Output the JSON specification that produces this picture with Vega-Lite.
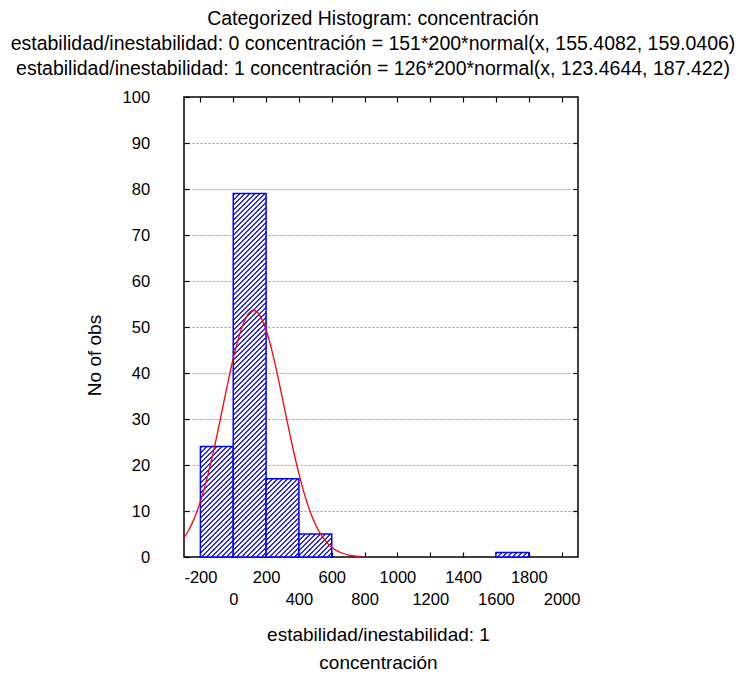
{
  "$schema": "https://vega.github.io/schema/vega-lite/v6.json",
  "autosize": "none",
  "width": 394,
  "height": 460,
  "padding": {"left": 184, "top": 97, "right": 171, "bottom": 117},
  "background": "white",
  "config": {
    "font": "Liberation Sans",
    "view": {"stroke": "#000", "strokeWidth": 1.5},
    "axis": {"labelColor": "#000", "tickColor": "#000", "titleColor": "#000", "labelFont": "Liberation Sans", "titleFont": "Liberation Sans", "titleFontWeight": "normal", "tickWidth": 1.2}
  },
  "title": {
    "text": ["Categorized Histogram: concentración", "estabilidad/inestabilidad: 0 concentración = 151*200*normal(x, 155.4082, 159.0406)", "estabilidad/inestabilidad: 1 concentración = 126*200*normal(x, 123.4644, 187.422)"],
    "font": "Liberation Sans", "fontSize": 19.5, "fontWeight": "normal", "color": "#000",
    "lineHeight": 25, "anchor": "middle", "frame": "group", "dx": -8, "offset": 10
  },
  "datasets": {
    "bins": [
      {"lo": -200, "hi": 0, "count": 24},
      {"lo": 0, "hi": 200, "count": 79},
      {"lo": 200, "hi": 400, "count": 17},
      {"lo": 400, "hi": 600, "count": 5},
      {"lo": 1600, "hi": 1800, "count": 1}
    ],
    "curve": [
      {"x": -300, "y": 4.178}, {"x": -275, "y": 5.597}, {"x": -250, "y": 7.367}, {"x": -225, "y": 9.525},
      {"x": -200, "y": 12.097}, {"x": -175, "y": 15.094}, {"x": -150, "y": 18.501}, {"x": -125, "y": 22.277},
      {"x": -100, "y": 26.351}, {"x": -75, "y": 30.62}, {"x": -50, "y": 34.952}, {"x": -25, "y": 39.195},
      {"x": 0, "y": 43.177}, {"x": 25, "y": 46.726}, {"x": 50, "y": 49.674}, {"x": 75, "y": 51.876},
      {"x": 100, "y": 53.221}, {"x": 125, "y": 53.638}, {"x": 150, "y": 53.105}, {"x": 175, "y": 51.65},
      {"x": 200, "y": 49.349}, {"x": 225, "y": 46.319}, {"x": 250, "y": 42.708}, {"x": 275, "y": 38.684},
      {"x": 300, "y": 34.422}, {"x": 325, "y": 30.089}, {"x": 350, "y": 25.837}, {"x": 375, "y": 21.795},
      {"x": 400, "y": 18.061}, {"x": 425, "y": 14.703}, {"x": 450, "y": 11.758}, {"x": 475, "y": 9.237},
      {"x": 500, "y": 7.129}, {"x": 525, "y": 5.405}, {"x": 550, "y": 4.025}, {"x": 575, "y": 2.945},
      {"x": 600, "y": 2.117}, {"x": 625, "y": 1.495}, {"x": 650, "y": 1.037}, {"x": 675, "y": 0.706},
      {"x": 700, "y": 0.473}, {"x": 725, "y": 0.311}, {"x": 750, "y": 0.201}, {"x": 775, "y": 0.127}
    ]
  },
  "layer": [
    {
      "data": {"name": "bins"},
      "encoding": {
        "x": {
          "field": "lo", "type": "quantitative",
          "scale": {"domain": [-300, 2100], "nice": false, "zero": false},
          "axis": {
            "orient": "bottom",
            "values": [-200, 0, 200, 400, 600, 800, 1000, 1200, 1400, 1600, 1800, 2000],
            "labelExpr": "datum.value % 400 == 0 ? [' ', '' + datum.value] : '' + datum.value",
            "grid": false, "domain": false, "tickSize": -5, "labelPadding": 17,
            "labelFontSize": 16.5, "labelLineHeight": 22, "labelOverlap": false, "labelFlush": false, "labelBaseline": "top",
            "title": ["estabilidad/inestabilidad: 1", "concentración"],
            "titleFontSize": 19, "titleLineHeight": 28, "titleX": 194, "titleY": 68, "titleBaseline": "top", "titleAlign": "center"
          }
        },
        "x2": {"field": "hi"},
        "y": {
          "field": "count", "type": "quantitative",
          "scale": {"domain": [0, 100], "nice": false},
          "axis": {
            "orient": "left",
            "values": [0, 10, 20, 30, 40, 50, 60, 70, 80, 90, 100],
            "grid": true, "gridDash": [2, 2], "gridColor": "#999", "gridWidth": 1,
            "gridOpacity": {"condition": {"test": "datum.value == 0 || datum.value == 100", "value": 0}, "value": 1},
            "domain": false, "tickSize": -5, "labelPadding": 39.4, "labelFontSize": 16.5, "labelFlush": false,
            "title": "No of obs", "titleFontSize": 19, "titleX": -90, "titleY": 258, "titleAngle": -90,
            "titleAlign": "center", "titleBaseline": "middle"
          }
        },
        "y2": {"datum": 0}
      },
      "layer": [
        {
          "transform": [{"filter": "datum.lo == -200"}],
          "mark": {"type": "bar", "stroke": "#00f", "strokeWidth": 1.5, "fill": {"gradient": "linear", "x1": 0, "y1": 0, "x2": 0.3544973, "y2": 1.1919747, "stops": [
            {"offset":0,"color":"#fff"},
            {"offset":0.00337,"color":"#fff"},{"offset":0.00337,"color":"#2b2bff"},{"offset":0.01734,"color":"#2b2bff"},{"offset":0.01734,"color":"#fff"},
            {"offset":0.03828,"color":"#fff"},{"offset":0.03828,"color":"#2b2bff"},{"offset":0.05225,"color":"#2b2bff"},{"offset":0.05225,"color":"#fff"},
            {"offset":0.07319,"color":"#fff"},{"offset":0.07319,"color":"#2b2bff"},{"offset":0.08715,"color":"#2b2bff"},{"offset":0.08715,"color":"#fff"},
            {"offset":0.1081,"color":"#fff"},{"offset":0.1081,"color":"#2b2bff"},{"offset":0.12206,"color":"#2b2bff"},{"offset":0.12206,"color":"#fff"},
            {"offset":0.14301,"color":"#fff"},{"offset":0.14301,"color":"#2b2bff"},{"offset":0.15697,"color":"#2b2bff"},{"offset":0.15697,"color":"#fff"},
            {"offset":0.17791,"color":"#fff"},{"offset":0.17791,"color":"#2b2bff"},{"offset":0.19188,"color":"#2b2bff"},{"offset":0.19188,"color":"#fff"},
            {"offset":0.21282,"color":"#fff"},{"offset":0.21282,"color":"#2b2bff"},{"offset":0.22679,"color":"#2b2bff"},{"offset":0.22679,"color":"#fff"},
            {"offset":0.24773,"color":"#fff"},{"offset":0.24773,"color":"#2b2bff"},{"offset":0.26169,"color":"#2b2bff"},{"offset":0.26169,"color":"#fff"},
            {"offset":0.28264,"color":"#fff"},{"offset":0.28264,"color":"#2b2bff"},{"offset":0.2966,"color":"#2b2bff"},{"offset":0.2966,"color":"#fff"},
            {"offset":0.31755,"color":"#fff"},{"offset":0.31755,"color":"#2b2bff"},{"offset":0.33151,"color":"#2b2bff"},{"offset":0.33151,"color":"#fff"},
            {"offset":0.35246,"color":"#fff"},{"offset":0.35246,"color":"#2b2bff"},{"offset":0.36642,"color":"#2b2bff"},{"offset":0.36642,"color":"#fff"},
            {"offset":0.38736,"color":"#fff"},{"offset":0.38736,"color":"#2b2bff"},{"offset":0.40133,"color":"#2b2bff"},{"offset":0.40133,"color":"#fff"},
            {"offset":0.42227,"color":"#fff"},{"offset":0.42227,"color":"#2b2bff"},{"offset":0.43623,"color":"#2b2bff"},{"offset":0.43623,"color":"#fff"},
            {"offset":0.45718,"color":"#fff"},{"offset":0.45718,"color":"#2b2bff"},{"offset":0.47114,"color":"#2b2bff"},{"offset":0.47114,"color":"#fff"},
            {"offset":0.49209,"color":"#fff"},{"offset":0.49209,"color":"#2b2bff"},{"offset":0.50605,"color":"#2b2bff"},{"offset":0.50605,"color":"#fff"},
            {"offset":0.527,"color":"#fff"},{"offset":0.527,"color":"#2b2bff"},{"offset":0.54096,"color":"#2b2bff"},{"offset":0.54096,"color":"#fff"},
            {"offset":0.5619,"color":"#fff"},{"offset":0.5619,"color":"#2b2bff"},{"offset":0.57587,"color":"#2b2bff"},{"offset":0.57587,"color":"#fff"},
            {"offset":0.59681,"color":"#fff"},{"offset":0.59681,"color":"#2b2bff"},{"offset":0.61078,"color":"#2b2bff"},{"offset":0.61078,"color":"#fff"},
            {"offset":0.63172,"color":"#fff"},{"offset":0.63172,"color":"#2b2bff"},{"offset":0.64568,"color":"#2b2bff"},{"offset":0.64568,"color":"#fff"},
            {"offset":0.66663,"color":"#fff"},{"offset":0.66663,"color":"#2b2bff"},{"offset":0.68059,"color":"#2b2bff"},{"offset":0.68059,"color":"#fff"},
            {"offset":0.70154,"color":"#fff"},{"offset":0.70154,"color":"#2b2bff"},{"offset":0.7155,"color":"#2b2bff"},{"offset":0.7155,"color":"#fff"},
            {"offset":0.73644,"color":"#fff"},{"offset":0.73644,"color":"#2b2bff"},{"offset":0.75041,"color":"#2b2bff"},{"offset":0.75041,"color":"#fff"},
            {"offset":0.77135,"color":"#fff"},{"offset":0.77135,"color":"#2b2bff"},{"offset":0.78532,"color":"#2b2bff"},{"offset":0.78532,"color":"#fff"},
            {"offset":0.80626,"color":"#fff"},{"offset":0.80626,"color":"#2b2bff"},{"offset":0.82022,"color":"#2b2bff"},{"offset":0.82022,"color":"#fff"},
            {"offset":0.84117,"color":"#fff"},{"offset":0.84117,"color":"#2b2bff"},{"offset":0.85513,"color":"#2b2bff"},{"offset":0.85513,"color":"#fff"},
            {"offset":0.87608,"color":"#fff"},{"offset":0.87608,"color":"#2b2bff"},{"offset":0.89004,"color":"#2b2bff"},{"offset":0.89004,"color":"#fff"},
            {"offset":0.91098,"color":"#fff"},{"offset":0.91098,"color":"#2b2bff"},{"offset":0.92495,"color":"#2b2bff"},{"offset":0.92495,"color":"#fff"},
            {"offset":0.94589,"color":"#fff"},{"offset":0.94589,"color":"#2b2bff"},{"offset":0.95986,"color":"#2b2bff"},{"offset":0.95986,"color":"#fff"},
            {"offset":0.9808,"color":"#fff"},{"offset":0.9808,"color":"#2b2bff"},{"offset":0.99476,"color":"#2b2bff"},{"offset":0.99476,"color":"#fff"},
            {"offset":1,"color":"#fff"}
          ]}}
        },
        {
          "transform": [{"filter": "datum.lo == 0"}],
          "mark": {"type": "bar", "stroke": "#00f", "strokeWidth": 1.5, "fill": {"gradient": "linear", "x1": 0, "y1": 0, "x2": 0.09771591, "y2": 1.08152172, "stops": [
            {"offset":0,"color":"#fff"},
            {"offset":0.00164,"color":"#fff"},{"offset":0.00164,"color":"#2b2bff"},{"offset":0.00669,"color":"#2b2bff"},{"offset":0.00669,"color":"#fff"},
            {"offset":0.01426,"color":"#fff"},{"offset":0.01426,"color":"#2b2bff"},{"offset":0.01931,"color":"#2b2bff"},{"offset":0.01931,"color":"#fff"},
            {"offset":0.02688,"color":"#fff"},{"offset":0.02688,"color":"#2b2bff"},{"offset":0.03193,"color":"#2b2bff"},{"offset":0.03193,"color":"#fff"},
            {"offset":0.0395,"color":"#fff"},{"offset":0.0395,"color":"#2b2bff"},{"offset":0.04454,"color":"#2b2bff"},{"offset":0.04454,"color":"#fff"},
            {"offset":0.05212,"color":"#fff"},{"offset":0.05212,"color":"#2b2bff"},{"offset":0.05716,"color":"#2b2bff"},{"offset":0.05716,"color":"#fff"},
            {"offset":0.06473,"color":"#fff"},{"offset":0.06473,"color":"#2b2bff"},{"offset":0.06978,"color":"#2b2bff"},{"offset":0.06978,"color":"#fff"},
            {"offset":0.07735,"color":"#fff"},{"offset":0.07735,"color":"#2b2bff"},{"offset":0.0824,"color":"#2b2bff"},{"offset":0.0824,"color":"#fff"},
            {"offset":0.08997,"color":"#fff"},{"offset":0.08997,"color":"#2b2bff"},{"offset":0.09502,"color":"#2b2bff"},{"offset":0.09502,"color":"#fff"},
            {"offset":0.10259,"color":"#fff"},{"offset":0.10259,"color":"#2b2bff"},{"offset":0.10764,"color":"#2b2bff"},{"offset":0.10764,"color":"#fff"},
            {"offset":0.11521,"color":"#fff"},{"offset":0.11521,"color":"#2b2bff"},{"offset":0.12026,"color":"#2b2bff"},{"offset":0.12026,"color":"#fff"},
            {"offset":0.12783,"color":"#fff"},{"offset":0.12783,"color":"#2b2bff"},{"offset":0.13288,"color":"#2b2bff"},{"offset":0.13288,"color":"#fff"},
            {"offset":0.14045,"color":"#fff"},{"offset":0.14045,"color":"#2b2bff"},{"offset":0.1455,"color":"#2b2bff"},{"offset":0.1455,"color":"#fff"},
            {"offset":0.15307,"color":"#fff"},{"offset":0.15307,"color":"#2b2bff"},{"offset":0.15811,"color":"#2b2bff"},{"offset":0.15811,"color":"#fff"},
            {"offset":0.16569,"color":"#fff"},{"offset":0.16569,"color":"#2b2bff"},{"offset":0.17073,"color":"#2b2bff"},{"offset":0.17073,"color":"#fff"},
            {"offset":0.1783,"color":"#fff"},{"offset":0.1783,"color":"#2b2bff"},{"offset":0.18335,"color":"#2b2bff"},{"offset":0.18335,"color":"#fff"},
            {"offset":0.19092,"color":"#fff"},{"offset":0.19092,"color":"#2b2bff"},{"offset":0.19597,"color":"#2b2bff"},{"offset":0.19597,"color":"#fff"},
            {"offset":0.20354,"color":"#fff"},{"offset":0.20354,"color":"#2b2bff"},{"offset":0.20859,"color":"#2b2bff"},{"offset":0.20859,"color":"#fff"},
            {"offset":0.21616,"color":"#fff"},{"offset":0.21616,"color":"#2b2bff"},{"offset":0.22121,"color":"#2b2bff"},{"offset":0.22121,"color":"#fff"},
            {"offset":0.22878,"color":"#fff"},{"offset":0.22878,"color":"#2b2bff"},{"offset":0.23383,"color":"#2b2bff"},{"offset":0.23383,"color":"#fff"},
            {"offset":0.2414,"color":"#fff"},{"offset":0.2414,"color":"#2b2bff"},{"offset":0.24645,"color":"#2b2bff"},{"offset":0.24645,"color":"#fff"},
            {"offset":0.25402,"color":"#fff"},{"offset":0.25402,"color":"#2b2bff"},{"offset":0.25906,"color":"#2b2bff"},{"offset":0.25906,"color":"#fff"},
            {"offset":0.26664,"color":"#fff"},{"offset":0.26664,"color":"#2b2bff"},{"offset":0.27168,"color":"#2b2bff"},{"offset":0.27168,"color":"#fff"},
            {"offset":0.27925,"color":"#fff"},{"offset":0.27925,"color":"#2b2bff"},{"offset":0.2843,"color":"#2b2bff"},{"offset":0.2843,"color":"#fff"},
            {"offset":0.29187,"color":"#fff"},{"offset":0.29187,"color":"#2b2bff"},{"offset":0.29692,"color":"#2b2bff"},{"offset":0.29692,"color":"#fff"},
            {"offset":0.30449,"color":"#fff"},{"offset":0.30449,"color":"#2b2bff"},{"offset":0.30954,"color":"#2b2bff"},{"offset":0.30954,"color":"#fff"},
            {"offset":0.31711,"color":"#fff"},{"offset":0.31711,"color":"#2b2bff"},{"offset":0.32216,"color":"#2b2bff"},{"offset":0.32216,"color":"#fff"},
            {"offset":0.32973,"color":"#fff"},{"offset":0.32973,"color":"#2b2bff"},{"offset":0.33478,"color":"#2b2bff"},{"offset":0.33478,"color":"#fff"},
            {"offset":0.34235,"color":"#fff"},{"offset":0.34235,"color":"#2b2bff"},{"offset":0.3474,"color":"#2b2bff"},{"offset":0.3474,"color":"#fff"},
            {"offset":0.35497,"color":"#fff"},{"offset":0.35497,"color":"#2b2bff"},{"offset":0.36002,"color":"#2b2bff"},{"offset":0.36002,"color":"#fff"},
            {"offset":0.36759,"color":"#fff"},{"offset":0.36759,"color":"#2b2bff"},{"offset":0.37263,"color":"#2b2bff"},{"offset":0.37263,"color":"#fff"},
            {"offset":0.38021,"color":"#fff"},{"offset":0.38021,"color":"#2b2bff"},{"offset":0.38525,"color":"#2b2bff"},{"offset":0.38525,"color":"#fff"},
            {"offset":0.39282,"color":"#fff"},{"offset":0.39282,"color":"#2b2bff"},{"offset":0.39787,"color":"#2b2bff"},{"offset":0.39787,"color":"#fff"},
            {"offset":0.40544,"color":"#fff"},{"offset":0.40544,"color":"#2b2bff"},{"offset":0.41049,"color":"#2b2bff"},{"offset":0.41049,"color":"#fff"},
            {"offset":0.41806,"color":"#fff"},{"offset":0.41806,"color":"#2b2bff"},{"offset":0.42311,"color":"#2b2bff"},{"offset":0.42311,"color":"#fff"},
            {"offset":0.43068,"color":"#fff"},{"offset":0.43068,"color":"#2b2bff"},{"offset":0.43573,"color":"#2b2bff"},{"offset":0.43573,"color":"#fff"},
            {"offset":0.4433,"color":"#fff"},{"offset":0.4433,"color":"#2b2bff"},{"offset":0.44835,"color":"#2b2bff"},{"offset":0.44835,"color":"#fff"},
            {"offset":0.45592,"color":"#fff"},{"offset":0.45592,"color":"#2b2bff"},{"offset":0.46097,"color":"#2b2bff"},{"offset":0.46097,"color":"#fff"},
            {"offset":0.46854,"color":"#fff"},{"offset":0.46854,"color":"#2b2bff"},{"offset":0.47359,"color":"#2b2bff"},{"offset":0.47359,"color":"#fff"},
            {"offset":0.48116,"color":"#fff"},{"offset":0.48116,"color":"#2b2bff"},{"offset":0.4862,"color":"#2b2bff"},{"offset":0.4862,"color":"#fff"},
            {"offset":0.49378,"color":"#fff"},{"offset":0.49378,"color":"#2b2bff"},{"offset":0.49882,"color":"#2b2bff"},{"offset":0.49882,"color":"#fff"},
            {"offset":0.50639,"color":"#fff"},{"offset":0.50639,"color":"#2b2bff"},{"offset":0.51144,"color":"#2b2bff"},{"offset":0.51144,"color":"#fff"},
            {"offset":0.51901,"color":"#fff"},{"offset":0.51901,"color":"#2b2bff"},{"offset":0.52406,"color":"#2b2bff"},{"offset":0.52406,"color":"#fff"},
            {"offset":0.53163,"color":"#fff"},{"offset":0.53163,"color":"#2b2bff"},{"offset":0.53668,"color":"#2b2bff"},{"offset":0.53668,"color":"#fff"},
            {"offset":0.54425,"color":"#fff"},{"offset":0.54425,"color":"#2b2bff"},{"offset":0.5493,"color":"#2b2bff"},{"offset":0.5493,"color":"#fff"},
            {"offset":0.55687,"color":"#fff"},{"offset":0.55687,"color":"#2b2bff"},{"offset":0.56192,"color":"#2b2bff"},{"offset":0.56192,"color":"#fff"},
            {"offset":0.56949,"color":"#fff"},{"offset":0.56949,"color":"#2b2bff"},{"offset":0.57454,"color":"#2b2bff"},{"offset":0.57454,"color":"#fff"},
            {"offset":0.58211,"color":"#fff"},{"offset":0.58211,"color":"#2b2bff"},{"offset":0.58715,"color":"#2b2bff"},{"offset":0.58715,"color":"#fff"},
            {"offset":0.59473,"color":"#fff"},{"offset":0.59473,"color":"#2b2bff"},{"offset":0.59977,"color":"#2b2bff"},{"offset":0.59977,"color":"#fff"},
            {"offset":0.60734,"color":"#fff"},{"offset":0.60734,"color":"#2b2bff"},{"offset":0.61239,"color":"#2b2bff"},{"offset":0.61239,"color":"#fff"},
            {"offset":0.61996,"color":"#fff"},{"offset":0.61996,"color":"#2b2bff"},{"offset":0.62501,"color":"#2b2bff"},{"offset":0.62501,"color":"#fff"},
            {"offset":0.63258,"color":"#fff"},{"offset":0.63258,"color":"#2b2bff"},{"offset":0.63763,"color":"#2b2bff"},{"offset":0.63763,"color":"#fff"},
            {"offset":0.6452,"color":"#fff"},{"offset":0.6452,"color":"#2b2bff"},{"offset":0.65025,"color":"#2b2bff"},{"offset":0.65025,"color":"#fff"},
            {"offset":0.65782,"color":"#fff"},{"offset":0.65782,"color":"#2b2bff"},{"offset":0.66287,"color":"#2b2bff"},{"offset":0.66287,"color":"#fff"},
            {"offset":0.67044,"color":"#fff"},{"offset":0.67044,"color":"#2b2bff"},{"offset":0.67549,"color":"#2b2bff"},{"offset":0.67549,"color":"#fff"},
            {"offset":0.68306,"color":"#fff"},{"offset":0.68306,"color":"#2b2bff"},{"offset":0.68811,"color":"#2b2bff"},{"offset":0.68811,"color":"#fff"},
            {"offset":0.69568,"color":"#fff"},{"offset":0.69568,"color":"#2b2bff"},{"offset":0.70072,"color":"#2b2bff"},{"offset":0.70072,"color":"#fff"},
            {"offset":0.7083,"color":"#fff"},{"offset":0.7083,"color":"#2b2bff"},{"offset":0.71334,"color":"#2b2bff"},{"offset":0.71334,"color":"#fff"},
            {"offset":0.72091,"color":"#fff"},{"offset":0.72091,"color":"#2b2bff"},{"offset":0.72596,"color":"#2b2bff"},{"offset":0.72596,"color":"#fff"},
            {"offset":0.73353,"color":"#fff"},{"offset":0.73353,"color":"#2b2bff"},{"offset":0.73858,"color":"#2b2bff"},{"offset":0.73858,"color":"#fff"},
            {"offset":0.74615,"color":"#fff"},{"offset":0.74615,"color":"#2b2bff"},{"offset":0.7512,"color":"#2b2bff"},{"offset":0.7512,"color":"#fff"},
            {"offset":0.75877,"color":"#fff"},{"offset":0.75877,"color":"#2b2bff"},{"offset":0.76382,"color":"#2b2bff"},{"offset":0.76382,"color":"#fff"},
            {"offset":0.77139,"color":"#fff"},{"offset":0.77139,"color":"#2b2bff"},{"offset":0.77644,"color":"#2b2bff"},{"offset":0.77644,"color":"#fff"},
            {"offset":0.78401,"color":"#fff"},{"offset":0.78401,"color":"#2b2bff"},{"offset":0.78906,"color":"#2b2bff"},{"offset":0.78906,"color":"#fff"},
            {"offset":0.79663,"color":"#fff"},{"offset":0.79663,"color":"#2b2bff"},{"offset":0.80167,"color":"#2b2bff"},{"offset":0.80167,"color":"#fff"},
            {"offset":0.80925,"color":"#fff"},{"offset":0.80925,"color":"#2b2bff"},{"offset":0.81429,"color":"#2b2bff"},{"offset":0.81429,"color":"#fff"},
            {"offset":0.82187,"color":"#fff"},{"offset":0.82187,"color":"#2b2bff"},{"offset":0.82691,"color":"#2b2bff"},{"offset":0.82691,"color":"#fff"},
            {"offset":0.83448,"color":"#fff"},{"offset":0.83448,"color":"#2b2bff"},{"offset":0.83953,"color":"#2b2bff"},{"offset":0.83953,"color":"#fff"},
            {"offset":0.8471,"color":"#fff"},{"offset":0.8471,"color":"#2b2bff"},{"offset":0.85215,"color":"#2b2bff"},{"offset":0.85215,"color":"#fff"},
            {"offset":0.85972,"color":"#fff"},{"offset":0.85972,"color":"#2b2bff"},{"offset":0.86477,"color":"#2b2bff"},{"offset":0.86477,"color":"#fff"},
            {"offset":0.87234,"color":"#fff"},{"offset":0.87234,"color":"#2b2bff"},{"offset":0.87739,"color":"#2b2bff"},{"offset":0.87739,"color":"#fff"},
            {"offset":0.88496,"color":"#fff"},{"offset":0.88496,"color":"#2b2bff"},{"offset":0.89001,"color":"#2b2bff"},{"offset":0.89001,"color":"#fff"},
            {"offset":0.89758,"color":"#fff"},{"offset":0.89758,"color":"#2b2bff"},{"offset":0.90263,"color":"#2b2bff"},{"offset":0.90263,"color":"#fff"},
            {"offset":0.9102,"color":"#fff"},{"offset":0.9102,"color":"#2b2bff"},{"offset":0.91524,"color":"#2b2bff"},{"offset":0.91524,"color":"#fff"},
            {"offset":0.92282,"color":"#fff"},{"offset":0.92282,"color":"#2b2bff"},{"offset":0.92786,"color":"#2b2bff"},{"offset":0.92786,"color":"#fff"},
            {"offset":0.93543,"color":"#fff"},{"offset":0.93543,"color":"#2b2bff"},{"offset":0.94048,"color":"#2b2bff"},{"offset":0.94048,"color":"#fff"},
            {"offset":0.94805,"color":"#fff"},{"offset":0.94805,"color":"#2b2bff"},{"offset":0.9531,"color":"#2b2bff"},{"offset":0.9531,"color":"#fff"},
            {"offset":0.96067,"color":"#fff"},{"offset":0.96067,"color":"#2b2bff"},{"offset":0.96572,"color":"#2b2bff"},{"offset":0.96572,"color":"#fff"},
            {"offset":0.97329,"color":"#fff"},{"offset":0.97329,"color":"#2b2bff"},{"offset":0.97834,"color":"#2b2bff"},{"offset":0.97834,"color":"#fff"},
            {"offset":0.98591,"color":"#fff"},{"offset":0.98591,"color":"#2b2bff"},{"offset":0.99096,"color":"#2b2bff"},{"offset":0.99096,"color":"#fff"},
            {"offset":0.99853,"color":"#fff"},{"offset":0.99853,"color":"#2b2bff"},{"offset":1,"color":"#2b2bff"}
          ]}}
        },
        {
          "transform": [{"filter": "datum.lo == 200"}],
          "mark": {"type": "bar", "stroke": "#00f", "strokeWidth": 1.5, "fill": {"gradient": "linear", "x1": 0, "y1": 0, "x2": 0.50680644, "y2": 1.207074, "stops": [
            {"offset":0,"color":"#fff"},
            {"offset":0.00555,"color":"#fff"},{"offset":0.00555,"color":"#2b2bff"},{"offset":0.02357,"color":"#2b2bff"},{"offset":0.02357,"color":"#fff"},
            {"offset":0.05059,"color":"#fff"},{"offset":0.05059,"color":"#2b2bff"},{"offset":0.0686,"color":"#2b2bff"},{"offset":0.0686,"color":"#fff"},
            {"offset":0.09562,"color":"#fff"},{"offset":0.09562,"color":"#2b2bff"},{"offset":0.11363,"color":"#2b2bff"},{"offset":0.11363,"color":"#fff"},
            {"offset":0.14065,"color":"#fff"},{"offset":0.14065,"color":"#2b2bff"},{"offset":0.15866,"color":"#2b2bff"},{"offset":0.15866,"color":"#fff"},
            {"offset":0.18568,"color":"#fff"},{"offset":0.18568,"color":"#2b2bff"},{"offset":0.20369,"color":"#2b2bff"},{"offset":0.20369,"color":"#fff"},
            {"offset":0.23071,"color":"#fff"},{"offset":0.23071,"color":"#2b2bff"},{"offset":0.24872,"color":"#2b2bff"},{"offset":0.24872,"color":"#fff"},
            {"offset":0.27574,"color":"#fff"},{"offset":0.27574,"color":"#2b2bff"},{"offset":0.29376,"color":"#2b2bff"},{"offset":0.29376,"color":"#fff"},
            {"offset":0.32077,"color":"#fff"},{"offset":0.32077,"color":"#2b2bff"},{"offset":0.33879,"color":"#2b2bff"},{"offset":0.33879,"color":"#fff"},
            {"offset":0.36581,"color":"#fff"},{"offset":0.36581,"color":"#2b2bff"},{"offset":0.38382,"color":"#2b2bff"},{"offset":0.38382,"color":"#fff"},
            {"offset":0.41084,"color":"#fff"},{"offset":0.41084,"color":"#2b2bff"},{"offset":0.42885,"color":"#2b2bff"},{"offset":0.42885,"color":"#fff"},
            {"offset":0.45587,"color":"#fff"},{"offset":0.45587,"color":"#2b2bff"},{"offset":0.47388,"color":"#2b2bff"},{"offset":0.47388,"color":"#fff"},
            {"offset":0.5009,"color":"#fff"},{"offset":0.5009,"color":"#2b2bff"},{"offset":0.51891,"color":"#2b2bff"},{"offset":0.51891,"color":"#fff"},
            {"offset":0.54593,"color":"#fff"},{"offset":0.54593,"color":"#2b2bff"},{"offset":0.56394,"color":"#2b2bff"},{"offset":0.56394,"color":"#fff"},
            {"offset":0.59096,"color":"#fff"},{"offset":0.59096,"color":"#2b2bff"},{"offset":0.60898,"color":"#2b2bff"},{"offset":0.60898,"color":"#fff"},
            {"offset":0.636,"color":"#fff"},{"offset":0.636,"color":"#2b2bff"},{"offset":0.65401,"color":"#2b2bff"},{"offset":0.65401,"color":"#fff"},
            {"offset":0.68103,"color":"#fff"},{"offset":0.68103,"color":"#2b2bff"},{"offset":0.69904,"color":"#2b2bff"},{"offset":0.69904,"color":"#fff"},
            {"offset":0.72606,"color":"#fff"},{"offset":0.72606,"color":"#2b2bff"},{"offset":0.74407,"color":"#2b2bff"},{"offset":0.74407,"color":"#fff"},
            {"offset":0.77109,"color":"#fff"},{"offset":0.77109,"color":"#2b2bff"},{"offset":0.7891,"color":"#2b2bff"},{"offset":0.7891,"color":"#fff"},
            {"offset":0.81612,"color":"#fff"},{"offset":0.81612,"color":"#2b2bff"},{"offset":0.83413,"color":"#2b2bff"},{"offset":0.83413,"color":"#fff"},
            {"offset":0.86115,"color":"#fff"},{"offset":0.86115,"color":"#2b2bff"},{"offset":0.87917,"color":"#2b2bff"},{"offset":0.87917,"color":"#fff"},
            {"offset":0.90618,"color":"#fff"},{"offset":0.90618,"color":"#2b2bff"},{"offset":0.9242,"color":"#2b2bff"},{"offset":0.9242,"color":"#fff"},
            {"offset":0.95122,"color":"#fff"},{"offset":0.95122,"color":"#2b2bff"},{"offset":0.96923,"color":"#2b2bff"},{"offset":0.96923,"color":"#fff"},
            {"offset":0.99625,"color":"#fff"},{"offset":0.99625,"color":"#2b2bff"},{"offset":1,"color":"#2b2bff"}
          ]}}
        },
        {
          "transform": [{"filter": "datum.lo == 400"}],
          "mark": {"type": "bar", "stroke": "#00f", "strokeWidth": 1.5, "fill": {"gradient": "linear", "x1": 0, "y1": 0, "x2": 1.14073598, "y2": 0.7990943, "stops": [
            {"offset":0,"color":"#fff"},
            {"offset":0.01045,"color":"#fff"},{"offset":0.01045,"color":"#2b2bff"},{"offset":0.04627,"color":"#2b2bff"},{"offset":0.04627,"color":"#fff"},
            {"offset":0.1,"color":"#fff"},{"offset":0.1,"color":"#2b2bff"},{"offset":0.13582,"color":"#2b2bff"},{"offset":0.13582,"color":"#fff"},
            {"offset":0.18955,"color":"#fff"},{"offset":0.18955,"color":"#2b2bff"},{"offset":0.22537,"color":"#2b2bff"},{"offset":0.22537,"color":"#fff"},
            {"offset":0.2791,"color":"#fff"},{"offset":0.2791,"color":"#2b2bff"},{"offset":0.31492,"color":"#2b2bff"},{"offset":0.31492,"color":"#fff"},
            {"offset":0.36866,"color":"#fff"},{"offset":0.36866,"color":"#2b2bff"},{"offset":0.40448,"color":"#2b2bff"},{"offset":0.40448,"color":"#fff"},
            {"offset":0.45821,"color":"#fff"},{"offset":0.45821,"color":"#2b2bff"},{"offset":0.49403,"color":"#2b2bff"},{"offset":0.49403,"color":"#fff"},
            {"offset":0.54776,"color":"#fff"},{"offset":0.54776,"color":"#2b2bff"},{"offset":0.58358,"color":"#2b2bff"},{"offset":0.58358,"color":"#fff"},
            {"offset":0.63731,"color":"#fff"},{"offset":0.63731,"color":"#2b2bff"},{"offset":0.67313,"color":"#2b2bff"},{"offset":0.67313,"color":"#fff"},
            {"offset":0.72687,"color":"#fff"},{"offset":0.72687,"color":"#2b2bff"},{"offset":0.76269,"color":"#2b2bff"},{"offset":0.76269,"color":"#fff"},
            {"offset":0.81642,"color":"#fff"},{"offset":0.81642,"color":"#2b2bff"},{"offset":0.85224,"color":"#2b2bff"},{"offset":0.85224,"color":"#fff"},
            {"offset":0.90597,"color":"#fff"},{"offset":0.90597,"color":"#2b2bff"},{"offset":0.94179,"color":"#2b2bff"},{"offset":0.94179,"color":"#fff"},
            {"offset":0.99552,"color":"#fff"},{"offset":0.99552,"color":"#2b2bff"},{"offset":1,"color":"#2b2bff"}
          ]}}
        },
        {
          "transform": [{"filter": "datum.lo == 1600"}],
          "mark": {"type": "bar", "stroke": "#00f", "strokeWidth": 1.5, "fill": {"gradient": "linear", "x1": 0, "y1": 0, "x2": 1.1181539, "y2": 0.1566551, "stops": [
            {"offset":0,"color":"#fff"},
            {"offset":0.0049,"color":"#fff"},{"offset":0.0049,"color":"#2b2bff"},{"offset":0.05833,"color":"#2b2bff"},{"offset":0.05833,"color":"#fff"},
            {"offset":0.13847,"color":"#fff"},{"offset":0.13847,"color":"#2b2bff"},{"offset":0.1919,"color":"#2b2bff"},{"offset":0.1919,"color":"#fff"},
            {"offset":0.27204,"color":"#fff"},{"offset":0.27204,"color":"#2b2bff"},{"offset":0.32547,"color":"#2b2bff"},{"offset":0.32547,"color":"#fff"},
            {"offset":0.40561,"color":"#fff"},{"offset":0.40561,"color":"#2b2bff"},{"offset":0.45904,"color":"#2b2bff"},{"offset":0.45904,"color":"#fff"},
            {"offset":0.53918,"color":"#fff"},{"offset":0.53918,"color":"#2b2bff"},{"offset":0.59261,"color":"#2b2bff"},{"offset":0.59261,"color":"#fff"},
            {"offset":0.67275,"color":"#fff"},{"offset":0.67275,"color":"#2b2bff"},{"offset":0.72618,"color":"#2b2bff"},{"offset":0.72618,"color":"#fff"},
            {"offset":0.80632,"color":"#fff"},{"offset":0.80632,"color":"#2b2bff"},{"offset":0.85975,"color":"#2b2bff"},{"offset":0.85975,"color":"#fff"},
            {"offset":0.93989,"color":"#fff"},{"offset":0.93989,"color":"#2b2bff"},{"offset":0.99332,"color":"#2b2bff"},{"offset":0.99332,"color":"#fff"},
            {"offset":1,"color":"#fff"}
          ]}}
        }
      ]
    },
    {
      "data": {"name": "curve"},
      "mark": {"type": "line", "color": "#f00", "strokeWidth": 1.3, "interpolate": "monotone"},
      "encoding": {
        "x": {
          "field": "x", "type": "quantitative",
          "scale": {"domain": [-300, 2100], "nice": false, "zero": false},
          "axis": {"orient": "top", "values": [-200, 0, 200, 400, 600, 800, 1000, 1200, 1400, 1600, 1800, 2000], "labels": false, "title": null, "grid": false, "domain": false, "tickSize": -5}
        },
        "y": {
          "field": "y", "type": "quantitative",
          "scale": {"domain": [0, 100], "nice": false},
          "axis": {"orient": "right", "values": [10, 20, 30, 40, 50, 60, 70, 80, 90], "labels": false, "title": null, "grid": false, "domain": false, "tickSize": -5}
        }
      }
    }
  ],
  "resolve": {"axis": {"x": "independent", "y": "independent"}}
}
